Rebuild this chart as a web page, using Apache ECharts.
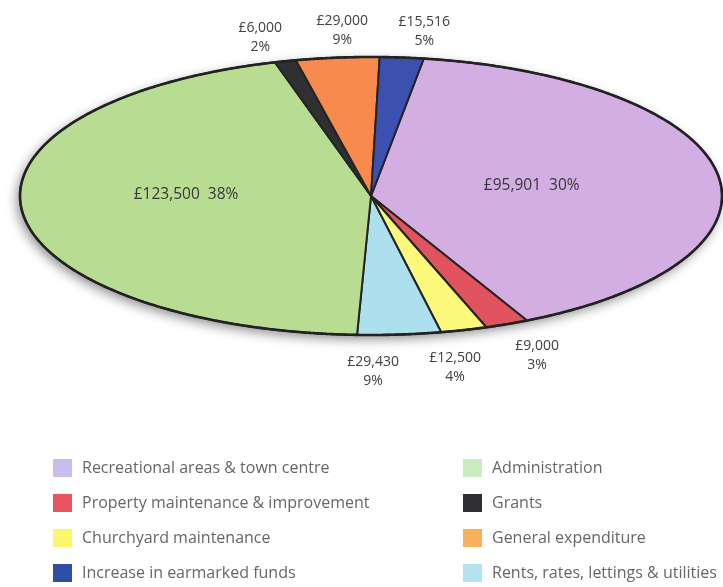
<!DOCTYPE html>
<html><head><meta charset="utf-8">
<script src="https://cdn.jsdelivr.net/npm/echarts@6/dist/echarts.min.js"></script>
<style>html,body{margin:0;padding:0;background:#fff}#c{width:723px;height:587px}</style>
</head><body><div id="c"></div>
<script>
// ---- data (slice order, clockwise from the top) ----
const categories = ['Recreational areas & town centre','Property maintenance & improvement','Churchyard maintenance','Rents, rates, lettings & utilities','Administration','Grants','General expenditure','Increase in earmarked funds'];
const amounts = [95901, 9000, 12500, 29430, 123500, 6000, 29000, 15516];
const insideLabel = [true, false, false, false, true, false, false, false];
const legendLeft = ['Recreational areas & town centre','Property maintenance & improvement','Churchyard maintenance','Increase in earmarked funds'];
const legendRight = ['Administration','Grants','General expenditure','Rents, rates, lettings & utilities'];

// ---- styles ----
const sliceColors = ['#d2aee3','#e0535f','#fdf97c','#ade0ec','#b9dc93','#303033','#f98a4d','#3c50b0'];
const legendColors = ['#c9bdf0','#e8535f','#fbf66c','#b4e2f0','#c9ebc0','#2f2f35','#f8b05a','#2e4fa8'];
const FONT = '"Open Sans", "DejaVu Sans", sans-serif';
const CX = 371, CY = 196, RX = 351, RY = 139, START = 21, MIN_GAP = 82;

const total = amounts.reduce((a, b) => a + b, 0);
const cum = amounts.map((_, i) => amounts.slice(0, i).reduce((a, b) => a + b, 0));
const fmt = v => '£' + v.toLocaleString('en-GB');
const pct = v => Math.round(v / total * 100) + '%';

function ep(deg) {
  const t = deg * Math.PI / 180, s = Math.sin(t), c = Math.cos(t);
  const r = 1 / Math.sqrt((s / RX) ** 2 + (c / RY) ** 2);
  return [CX + r * s, CY - r * c];
}
function arcPts(a0, a1) {
  const p = [];
  for (let a = a0; a < a1; a += 0.5) p.push(ep(a));
  p.push(ep(a1));
  return p;
}
function edgeY(x, top) {
  const u = Math.max(-1, Math.min(1, (x - CX) / RX));
  const h = RY * Math.sqrt(1 - u * u);
  return top ? CY - h : CY + h;
}

// angles and spread-out outside label positions (computed from the data)
const ang = amounts.map((v, i) => {
  const a0 = START + cum[i] / total * 360;
  return [a0, a0 + v / total * 360];
});
const labelPos = {};
[true, false].forEach(top => {
  const items = [];
  amounts.forEach((v, i) => {
    if (insideLabel[i]) return;
    const mid = (ang[i][0] + ang[i][1]) / 2;
    if ((Math.cos(mid * Math.PI / 180) > 0) !== top) return;
    items.push({ i: i, x: ep(mid)[0] });
  });
  items.sort((a, b) => a.x - b.x);
  for (let it = 0; it < 200; it++) {
    for (let k = 0; k < items.length - 1; k++) {
      const d = items[k + 1].x - items[k].x;
      if (d < MIN_GAP) {
        const push = (MIN_GAP - d) / 2;
        items[k].x -= push; items[k + 1].x += push;
      }
    }
  }
  items.forEach(o => {
    labelPos[o.i] = { x: o.x, y: top ? edgeY(o.x, true) - 8 : edgeY(o.x, false) + 18, top: top };
  });
});

const series = categories.map((name, i) => ({
  type: 'custom',
  name: name,
  coordinateSystem: 'none',
  color: sliceColors[i],
  silent: true,
  data: [amounts[i]],
  renderItem: function (params, api) {
    const v = api.value(0);
    const a0 = START + cum[i] / total * 360;
    const a1 = a0 + v / total * 360;
    const children = [];
    if (i === 0) {
      children.push({
        type: 'polygon', z2: 0,
        shape: { points: arcPts(0, 360) },
        style: { fill: '#ffffff', shadowBlur: 12, shadowColor: 'rgba(0,0,0,0.45)', shadowOffsetX: -3, shadowOffsetY: 4 }
      });
    }
    children.push({
      type: 'polygon', z2: 10,
      shape: { points: [[CX, CY]].concat(arcPts(a0, a1)) },
      style: { fill: sliceColors[i], stroke: '#242424', lineWidth: 2, lineJoin: 'round' }
    });
    if (i === categories.length - 1) {
      children.push({
        type: 'polygon', z2: 20,
        shape: { points: arcPts(0, 360) },
        style: { fill: 'none', stroke: '#222', lineWidth: 2.6 }
      });
    }
    const mid = (a0 + a1) / 2, mt = mid * Math.PI / 180;
    if (insideLabel[i]) {
      children.push({
        type: 'text', z2: 100,
        style: {
          text: fmt(v) + '  ' + pct(v),
          x: CX + 0.51 * RX * Math.sin(mt) - 12, y: CY - 6 - 0.12 * RY * Math.cos(mt),
          align: 'center', verticalAlign: 'middle',
          fill: '#38363a', font: '15.5px ' + FONT
        }
      });
    } else {
      const lp = labelPos[i];
      children.push({
        type: 'text', z2: 100,
        style: {
          text: fmt(v) + '\n' + pct(v),
          x: lp.x, y: lp.y,
          align: 'center', verticalAlign: lp.top ? 'bottom' : 'top',
          fill: '#404040', font: '14px ' + FONT, lineHeight: 19
        }
      });
    }
    return { type: 'group', children: children };
  }
}));

const legendBase = {
  orient: 'vertical', icon: 'rect', itemWidth: 19, itemHeight: 18, itemGap: 17,
  padding: 0, selectedMode: false,
  textStyle: { color: '#666', fontFamily: FONT, fontSize: 16, lineHeight: 18, padding: [0, 0, 0, 5] }
};
const legendItem = n => ({ name: n, itemStyle: { color: legendColors[categories.indexOf(n)] } });

const chart = echarts.init(document.getElementById('c'), null, { renderer: 'canvas' });
chart.setOption({
  animation: false,
  backgroundColor: '#fff',
  legend: [
    Object.assign({}, legendBase, { left: 53, top: 459, height: 128, data: legendLeft.map(legendItem) }),
    Object.assign({}, legendBase, { left: 463, top: 459, height: 128, data: legendRight.map(legendItem) })
  ],
  series: series
});
</script></body></html>
